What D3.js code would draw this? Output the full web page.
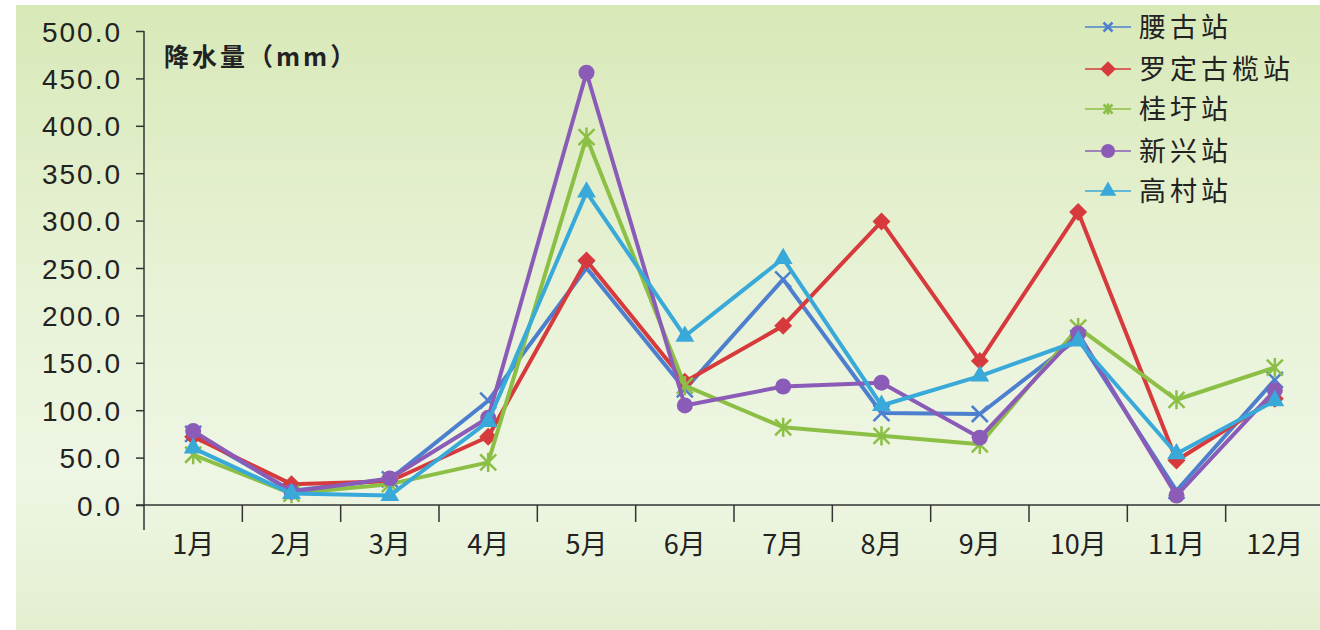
<!DOCTYPE html>
<html><head><meta charset="utf-8">
<script src="https://cdn.jsdelivr.net/npm/d3@7"></script>
<style>html,body{margin:0;padding:0;background:#fff;}svg{display:block;}</style>
</head><body>
<svg id="chart" width="1320" height="630"></svg>
<script>
const months = ["1月","2月","3月","4月","5月","6月","7月","8月","9月","10月","11月","12月"];
const seriesNames = ["腰古站","罗定古榄站","桂圩站","新兴站","高村站"];
const yaogu   = [75, 15, 27, 110, 250, 122, 238, 97, 96, 176, 15, 132];
const luoding = [72, 22, 25, 72, 258, 130, 189, 299, 152, 309, 47, 112];
const guixu   = [53, 12, 22, 45, 388, 126, 82, 73, 64, 187, 111, 145];
const xinxing = [78, 14, 28, 92, 456, 105, 125, 129, 71, 181, 10, 121];
const gaocun  = [60, 12, 10, 88, 330, 178, 260, 105, 136, 173, 54, 110];
const yTicks = [0, 50, 100, 150, 200, 250, 300, 350, 400, 450, 500];
const yTitle = "降水量（mm）";

const colors = ["#4d7fcf", "#d63a3c", "#8cbf45", "#8a5cb8", "#38a9d9"];
const markers = ["x", "diamond", "star", "circle", "triangle"];
const dataSets = [yaogu, luoding, guixu, xinxing, gaocun];

const svg = d3.select("#chart");
const defs = svg.append("defs");
const grad = defs.append("linearGradient").attr("id","bg").attr("x1",0).attr("y1",0).attr("x2",0).attr("y2",1);
grad.append("stop").attr("offset","0%").attr("stop-color","#d8e9b8");
grad.append("stop").attr("offset","45%").attr("stop-color","#e8f2d6");
grad.append("stop").attr("offset","75%").attr("stop-color","#eef6e4");
grad.append("stop").attr("offset","100%").attr("stop-color","#e4efd0");
svg.append("rect").attr("x",16).attr("y",5).attr("width",1304).attr("height",625).attr("fill","url(#bg)");

const x = d3.scaleBand().domain(months).range([144, 1324]);
const y = d3.scaleLinear().domain([0, 500]).range([505, 31]);
const axisColor = "#333";
const numFont = "'Liberation Sans', Arial, sans-serif";
const cjkFont = "'Noto Sans CJK SC', sans-serif";

// Y axis
const yAxis = svg.append("g").attr("transform","translate(144,0)")
  .call(d3.axisLeft(y).tickValues(yTicks).tickFormat(d3.format(".1f")).tickSize(8).tickPadding(14));
yAxis.select(".domain").remove();
yAxis.selectAll("line").attr("stroke", axisColor).attr("stroke-width",1.5);
yAxis.selectAll("text").attr("font-family", numFont).attr("font-size", 28).attr("fill","#222")
  .attr("letter-spacing", 2).attr("dy","0.36em");
svg.append("line").attr("x1",144).attr("x2",144).attr("y1",y(500)).attr("y2",530)
  .attr("stroke",axisColor).attr("stroke-width",1.5);

// X axis
svg.append("line").attr("x1",136).attr("x2",1320).attr("y1",y(0)).attr("y2",y(0))
  .attr("stroke",axisColor).attr("stroke-width",1.5);
const bounds = months.slice(1).map(m => x(m));
svg.selectAll(".xtick").data(bounds).enter().append("line")
  .attr("x1", d => d).attr("x2", d => d).attr("y1", y(0)).attr("y2", 522)
  .attr("stroke", axisColor).attr("stroke-width", 1.5);
svg.selectAll(".xlab").data(months).enter().append("text")
  .attr("x", d => x(d) + x.bandwidth()/2).attr("y", 554)
  .attr("text-anchor","middle").attr("font-family", cjkFont).attr("font-size", 27).attr("fill","#222")
  .text(d => d);

// Y title
svg.append("text").attr("x",164).attr("y",66).attr("font-family",cjkFont).attr("font-size",25)
  .attr("font-weight","bold").attr("letter-spacing",3).attr("fill","#222").text(yTitle);

// Marker drawing
function drawMarker(g, type, color, size) {
  const s = size;
  if (type === "x") {
    g.append("path").attr("d", `M${-s*0.5},${-s*0.5}L${s*0.5},${s*0.5}M${-s*0.5},${s*0.5}L${s*0.5},${-s*0.5}`)
      .attr("stroke", color).attr("stroke-width", 2.5).attr("fill","none");
  } else if (type === "star") {
    g.append("path").attr("d", `M${-s*0.5},${-s*0.5}L${s*0.5},${s*0.5}M${-s*0.5},${s*0.5}L${s*0.5},${-s*0.5}M0,${-s*0.6}L0,${s*0.6}`)
      .attr("stroke", color).attr("stroke-width", 2.5).attr("fill","none");
  } else if (type === "diamond") {
    g.append("path").attr("d", d3.symbol(d3.symbolDiamond2, s*s*0.8)()).attr("fill", color);
  } else if (type === "circle") {
    g.append("circle").attr("r", s*0.5).attr("fill", color);
  } else if (type === "triangle") {
    g.append("path").attr("d", d3.symbol(d3.symbolTriangle, s*s*0.6)()).attr("fill", color);
  }
}

const line = d3.line().x((d,i) => x(months[i]) + x.bandwidth()/2).y(d => y(d));
dataSets.forEach((data, k) => {
  svg.append("path").datum(data).attr("d", line).attr("fill","none")
    .attr("stroke", colors[k]).attr("stroke-width", 4).attr("stroke-linejoin","round");
  data.forEach((v, i) => {
    const g = svg.append("g").attr("transform", `translate(${x(months[i]) + x.bandwidth()/2},${y(v)})`);
    drawMarker(g, markers[k], colors[k], 16);
  });
});

// Legend
const legendY = [27, 69, 109, 151, 191];
seriesNames.forEach((name, k) => {
  const ly = legendY[k];
  svg.append("line").attr("x1",1085).attr("x2",1131).attr("y1",ly).attr("y2",ly)
    .attr("stroke",colors[k]).attr("stroke-width",1.5);
  const g = svg.append("g").attr("transform",`translate(1108,${ly})`);
  drawMarker(g, markers[k], colors[k], markers[k]==="x"||markers[k]==="star" ? 9 : 14);
  svg.append("text").attr("x",1139).attr("y",ly).attr("dy","0.36em")
    .attr("font-family",cjkFont).attr("font-size",27).attr("fill","#222").attr("letter-spacing",4).text(name);
});
</script>
</body></html>
